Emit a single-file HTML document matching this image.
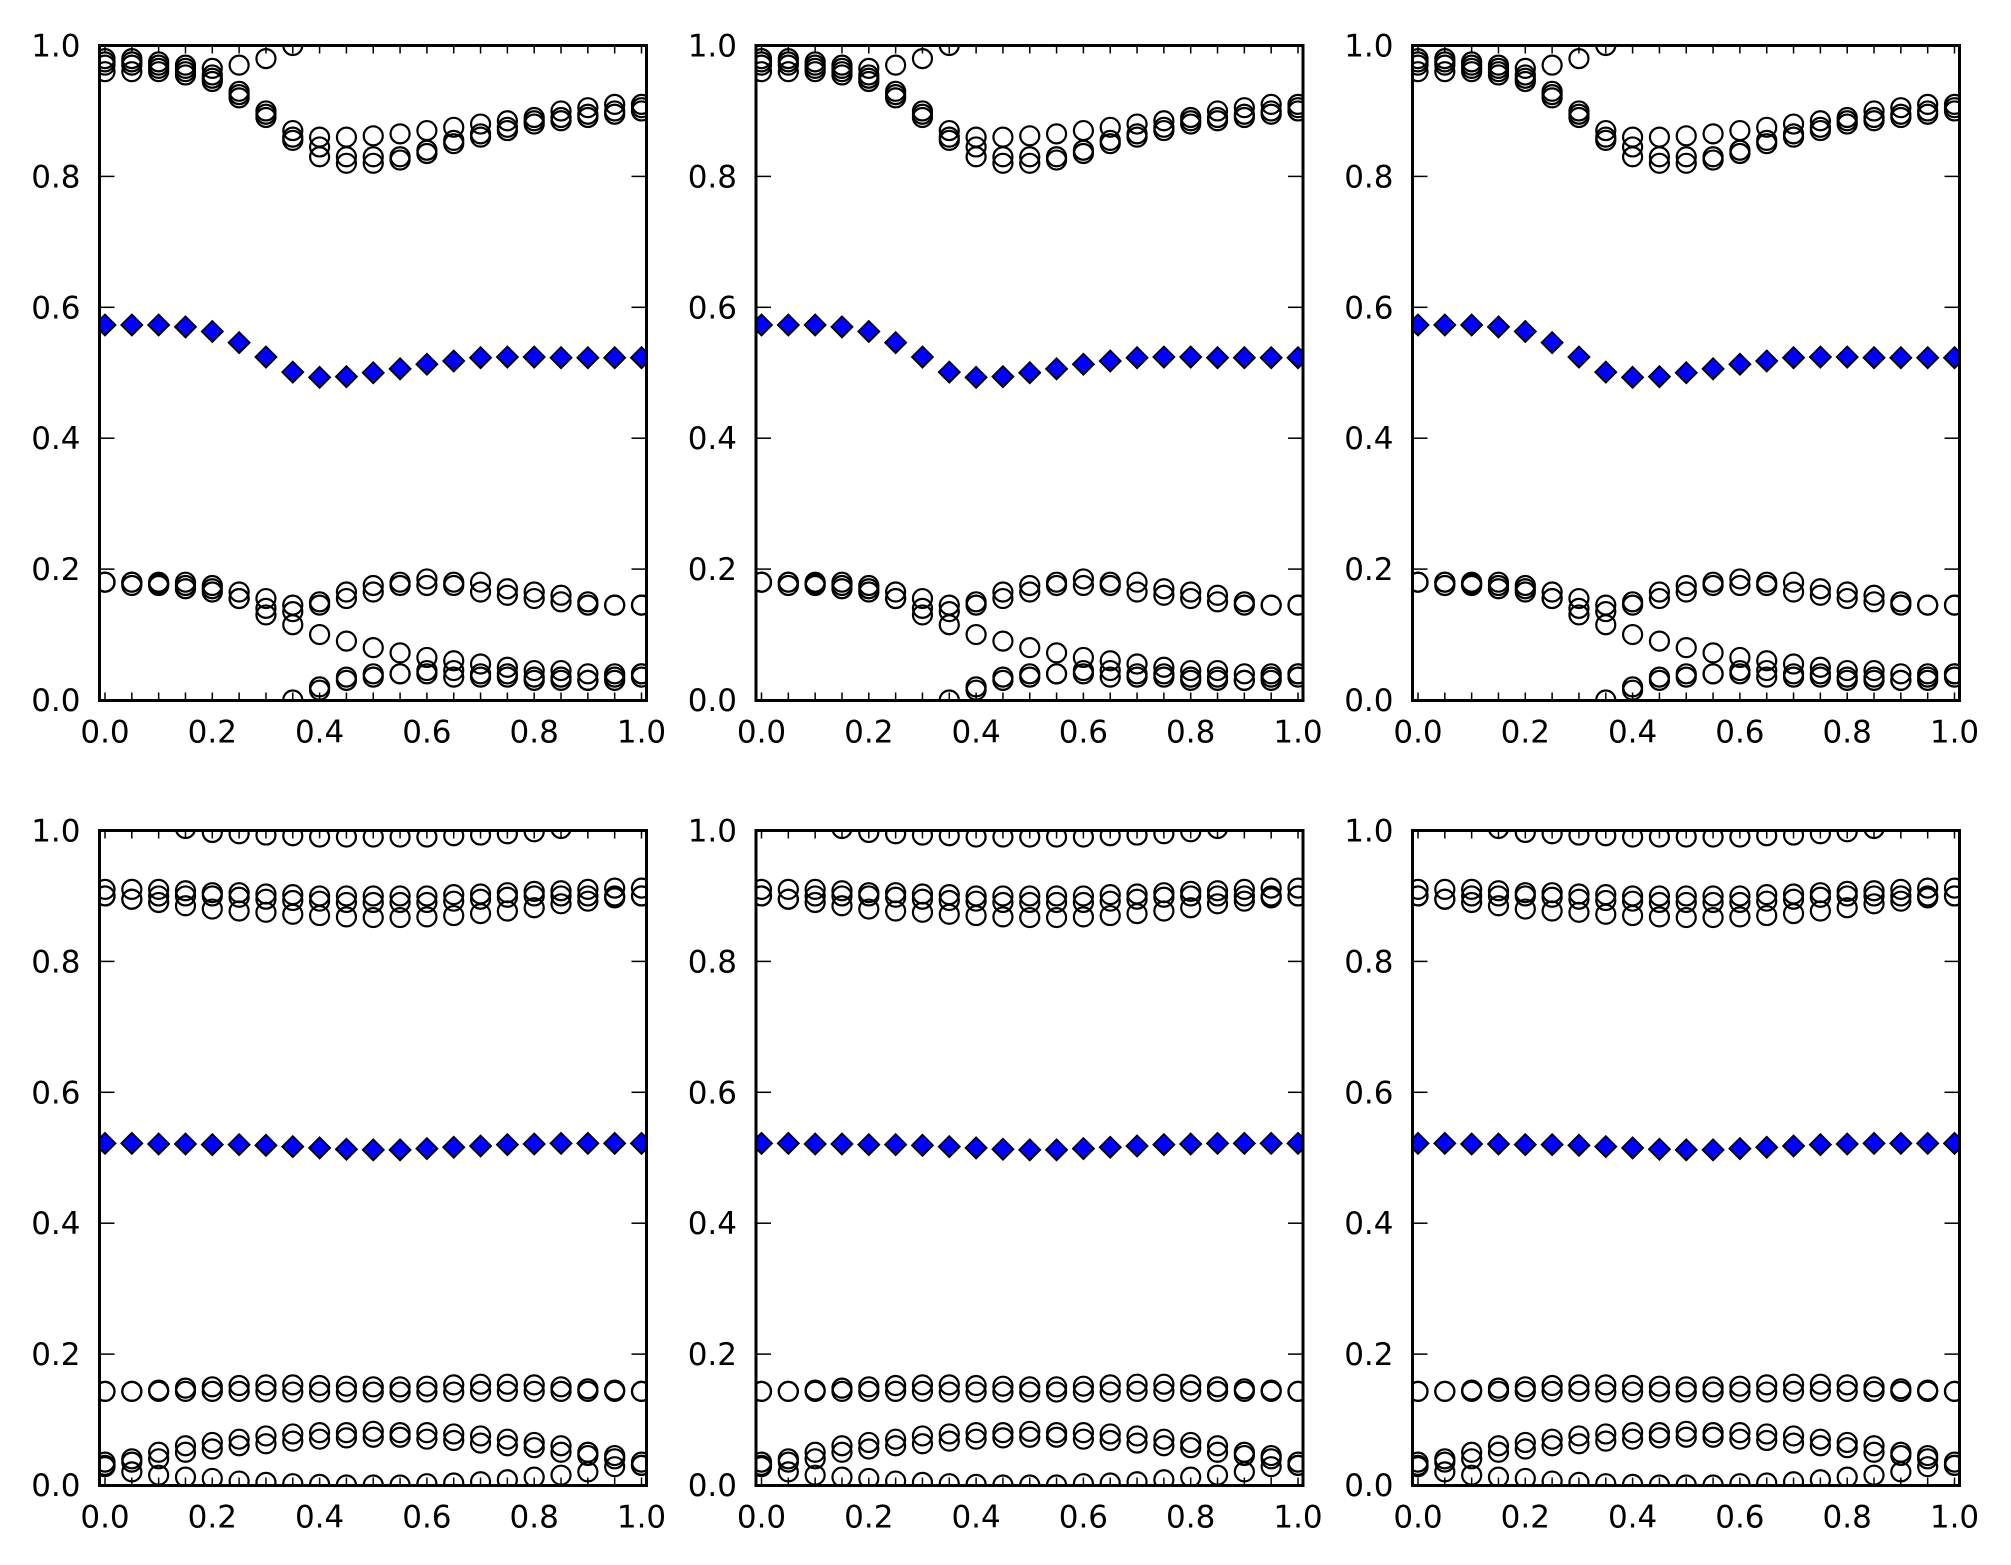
<!DOCTYPE html>
<html><head><meta charset="utf-8"><style>
html,body{margin:0;padding:0;background:#fff;}
svg{display:block;}
text{font-family:"DejaVu Sans","Liberation Sans",sans-serif;font-size:31px;fill:#000;}
</style></head><body>
<svg id="s" width="2011" height="1565" viewBox="0 0 2011 1565" xmlns="http://www.w3.org/2000/svg">
<defs><clipPath id="cp"><rect x="0" y="0" width="547" height="655"/></clipPath></defs>
<g id="p0" transform="translate(99.5,45.5)"></g>
<g id="p1" transform="translate(756,45.5)"></g>
<g id="p2" transform="translate(1412.5,45.5)"></g>
<g id="p3" transform="translate(99.5,830.5)"></g>
<g id="p4" transform="translate(756,830.5)"></g>
<g id="p5" transform="translate(1412.5,830.5)"></g>
</svg>
<script>
(function(){
var NS="http://www.w3.org/2000/svg";
function el(t,a,p){var e=document.createElementNS(NS,t);for(var k in a)e.setAttribute(k,a[k]);p.appendChild(e);return e;}
function px(x){return 5.5+536.5*x;}
function py(y){return 654.5*(1-y);}
var topData={
 d:[0.573,0.573,0.573,0.570,0.563,0.546,0.524,0.501,0.493,0.494,0.500,0.506,0.513,0.518,0.523,0.524,0.524,0.523,0.523,0.523,0.523],
 c:[
 [0.98,0.98,0.975,0.97,0.965,0.97,0.98,1.0],
 [0.96,0.96,0.96,0.955,0.945,0.925,0.895,0.86,0.83,0.82,0.82,0.825,0.835,0.85,0.86,0.87,0.88,0.885,0.89,0.895,0.9],
 [0.975,0.97,0.965,0.96,0.955,0.93,0.9,0.87,0.86,0.86,0.862,0.865,0.87,0.875,0.88,0.885,0.89,0.9,0.905,0.91,0.91],
 [0.97,0.975,0.97,0.965,0.95,0.92,0.89,0.855,0.845,0.83,0.83,0.83,0.84,0.855,0.865,0.875,0.885,0.89,0.895,0.9,0.905],
 [0.18,0.18,0.18,0.18,0.175,0.165,0.155,0.145,0.15,0.165,0.175,0.18,0.185,0.18,0.18,0.17,0.165,0.16,0.15,0.145,0.145],
 [0.18,0.175,0.175,0.17,0.165,0.155,0.14,0.135,0.145,0.155,0.165,0.175,0.175,0.175,0.165,0.16,0.155,0.15,0.145,0.145,0.145],
 [0.18,0.18,0.178,0.175,0.17,0.155,0.13,0.115,0.1,0.09,0.08,0.072,0.065,0.06,0.055,0.05,0.045,0.045,0.04,0.04,0.04],
 [null,null,null,null,null,null,null,0.0,0.02,0.035,0.04,0.04,0.045,0.045,0.04,0.04,0.035,0.035,0.03,0.035,0.04],
 [null,null,null,null,null,null,null,null,0.015,0.03,0.035,0.04,0.04,0.035,0.035,0.035,0.03,0.03,0.03,0.03,0.035]
 ]};
var botData={
 d:[0.522,0.522,0.521,0.521,0.52,0.52,0.519,0.517,0.515,0.513,0.512,0.512,0.514,0.516,0.518,0.52,0.521,0.522,0.522,0.522,0.522],
 c:[
 [null,null,null,1.003,0.997,0.995,0.993,0.992,0.99,0.99,0.99,0.99,0.99,0.992,0.993,0.995,0.998,1.003],
 [0.91,0.91,0.91,0.908,0.905,0.905,0.903,0.902,0.9,0.9,0.9,0.9,0.9,0.902,0.903,0.905,0.907,0.908,0.91,0.912,0.912],
 [0.9,0.895,0.9,0.9,0.9,0.898,0.895,0.893,0.892,0.89,0.89,0.89,0.89,0.892,0.895,0.898,0.9,0.9,0.9,0.9,0.9],
 [0.9,0.895,0.89,0.885,0.88,0.877,0.875,0.872,0.87,0.868,0.867,0.867,0.868,0.87,0.873,0.877,0.882,0.888,0.892,0.897,0.9],
 [0.143,0.143,0.145,0.148,0.15,0.152,0.153,0.153,0.152,0.151,0.15,0.15,0.151,0.153,0.154,0.154,0.153,0.15,0.147,0.145,0.143],
 [0.143,0.143,0.143,0.143,0.143,0.143,0.143,0.142,0.142,0.142,0.142,0.142,0.142,0.142,0.143,0.143,0.143,0.143,0.143,0.143,0.143],
 [0.035,0.04,0.05,0.06,0.065,0.07,0.075,0.078,0.08,0.08,0.082,0.08,0.08,0.078,0.075,0.07,0.065,0.06,0.05,0.045,0.035],
 [0.03,0.035,0.04,0.05,0.055,0.06,0.063,0.067,0.07,0.072,0.073,0.073,0.07,0.068,0.064,0.06,0.057,0.05,0.045,0.04,0.03],
 [0.028,0.02,0.015,0.012,0.01,0.006,0.004,0.002,0.001,0,0,0,0.002,0.003,0.005,0.008,0.012,0.015,0.02,0.028,0.03]
 ]};
for(var p=0;p<6;p++){
 var g=document.getElementById("p"+p);var D=p<3?topData:botData;
 var cg=el("g",{"clip-path":"url(#cp)"},g);
 D.c.forEach(function(s){s.forEach(function(v,i){if(v==null)return;
  el("circle",{cx:px(i*0.05),cy:py(v),r:9.5,fill:"none",stroke:"#000","stroke-width":2.2},cg);});});
 D.d.forEach(function(v,i){var x=px(i*0.05),y=py(v);
  el("polygon",{points:(x)+","+(y-10.5)+" "+(x+10.5)+","+y+" "+x+","+(y+10.5)+" "+(x-10.5)+","+y,fill:"#0000ff",stroke:"#000","stroke-width":1.8},cg);});
 for(var k=0;k<=20;k++){var x=px(k*0.05);
  el("line",{x1:x,y1:655,x2:x,y2:647,stroke:"#000","stroke-width":1.5},g);
  el("line",{x1:x,y1:0,x2:x,y2:8,stroke:"#000","stroke-width":1.5},g);}
 for(var k=0;k<=5;k++){var y=py(k*0.2);
  el("line",{x1:0,y1:y,x2:15,y2:y,stroke:"#000","stroke-width":1.5},g);
  el("line",{x1:547,y1:y,x2:532,y2:y,stroke:"#000","stroke-width":1.5},g);}
 el("rect",{x:0,y:0,width:547,height:655,fill:"none",stroke:"#000","stroke-width":3},g);
}
})();
</script>
<svg width="2011" height="1565" viewBox="0 0 2011 1565" style="position:absolute;left:0;top:0" xmlns="http://www.w3.org/2000/svg">
<g transform="translate(99.5,45.5)">
<g text-anchor="end"><text x="-19" y="665.5">0.0</text><text x="-19" y="534.6">0.2</text><text x="-19" y="403.7">0.4</text><text x="-19" y="272.8">0.6</text><text x="-19" y="141.9">0.8</text><text x="-19" y="11">1.0</text></g>
<g text-anchor="middle"><text x="5.5" y="697">0.0</text><text x="112.8" y="697">0.2</text><text x="220.1" y="697">0.4</text><text x="327.4" y="697">0.6</text><text x="434.7" y="697">0.8</text><text x="542" y="697">1.0</text></g>
</g>
<g transform="translate(756,45.5)">
<g text-anchor="end"><text x="-19" y="665.5">0.0</text><text x="-19" y="534.6">0.2</text><text x="-19" y="403.7">0.4</text><text x="-19" y="272.8">0.6</text><text x="-19" y="141.9">0.8</text><text x="-19" y="11">1.0</text></g>
<g text-anchor="middle"><text x="5.5" y="697">0.0</text><text x="112.8" y="697">0.2</text><text x="220.1" y="697">0.4</text><text x="327.4" y="697">0.6</text><text x="434.7" y="697">0.8</text><text x="542" y="697">1.0</text></g>
</g>
<g transform="translate(1412.5,45.5)">
<g text-anchor="end"><text x="-19" y="665.5">0.0</text><text x="-19" y="534.6">0.2</text><text x="-19" y="403.7">0.4</text><text x="-19" y="272.8">0.6</text><text x="-19" y="141.9">0.8</text><text x="-19" y="11">1.0</text></g>
<g text-anchor="middle"><text x="5.5" y="697">0.0</text><text x="112.8" y="697">0.2</text><text x="220.1" y="697">0.4</text><text x="327.4" y="697">0.6</text><text x="434.7" y="697">0.8</text><text x="542" y="697">1.0</text></g>
</g>
<g transform="translate(99.5,830.5)">
<g text-anchor="end"><text x="-19" y="665.5">0.0</text><text x="-19" y="534.6">0.2</text><text x="-19" y="403.7">0.4</text><text x="-19" y="272.8">0.6</text><text x="-19" y="141.9">0.8</text><text x="-19" y="11">1.0</text></g>
<g text-anchor="middle"><text x="5.5" y="697">0.0</text><text x="112.8" y="697">0.2</text><text x="220.1" y="697">0.4</text><text x="327.4" y="697">0.6</text><text x="434.7" y="697">0.8</text><text x="542" y="697">1.0</text></g>
</g>
<g transform="translate(756,830.5)">
<g text-anchor="end"><text x="-19" y="665.5">0.0</text><text x="-19" y="534.6">0.2</text><text x="-19" y="403.7">0.4</text><text x="-19" y="272.8">0.6</text><text x="-19" y="141.9">0.8</text><text x="-19" y="11">1.0</text></g>
<g text-anchor="middle"><text x="5.5" y="697">0.0</text><text x="112.8" y="697">0.2</text><text x="220.1" y="697">0.4</text><text x="327.4" y="697">0.6</text><text x="434.7" y="697">0.8</text><text x="542" y="697">1.0</text></g>
</g>
<g transform="translate(1412.5,830.5)">
<g text-anchor="end"><text x="-19" y="665.5">0.0</text><text x="-19" y="534.6">0.2</text><text x="-19" y="403.7">0.4</text><text x="-19" y="272.8">0.6</text><text x="-19" y="141.9">0.8</text><text x="-19" y="11">1.0</text></g>
<g text-anchor="middle"><text x="5.5" y="697">0.0</text><text x="112.8" y="697">0.2</text><text x="220.1" y="697">0.4</text><text x="327.4" y="697">0.6</text><text x="434.7" y="697">0.8</text><text x="542" y="697">1.0</text></g>
</g>
</svg>
</body></html>
